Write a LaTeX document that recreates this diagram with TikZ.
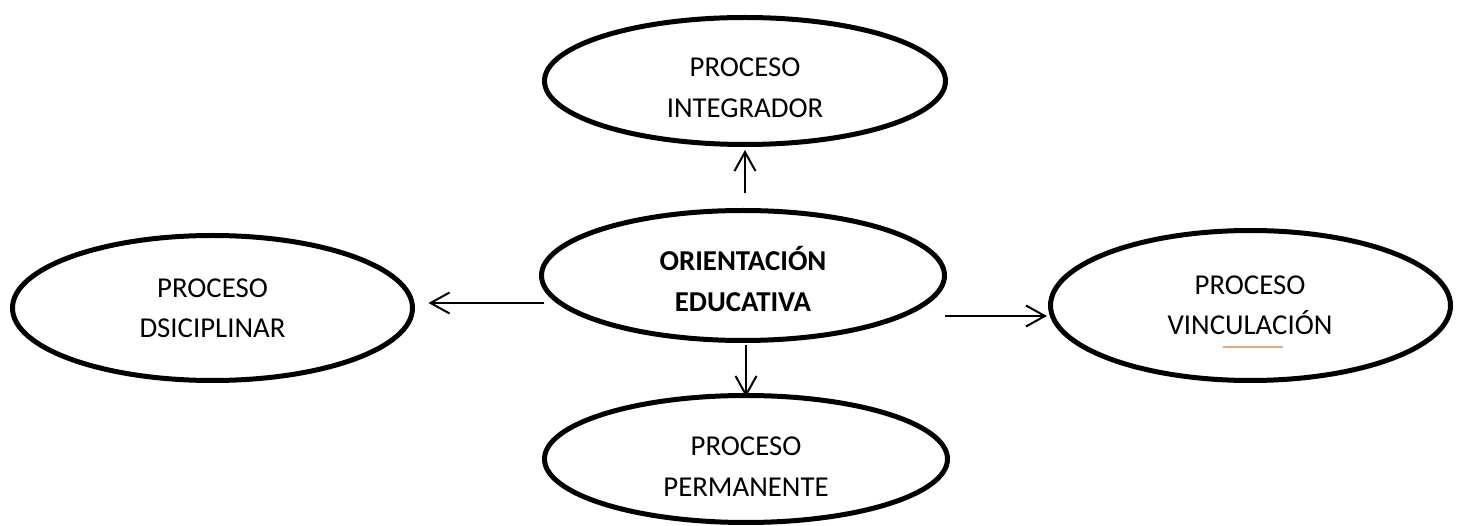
\documentclass[tikz,border=0pt]{standalone}
\usepackage{fontspec}
\setmainfont{Carlito}
\usetikzlibrary{shapes.geometric,arrows.meta}
\definecolor{strayorange}{RGB}{226,170,125}
\tikzset{
  proc/.style={ellipse, draw=black, line width=5pt, inner sep=0pt, outer sep=0pt},
  lbl/.style={anchor=base, inner sep=0pt, font=\fontsize{28.8}{41}\selectfont},
  lblb/.style={lbl, font=\fontsize{28.8}{41}\selectfont\bfseries},
  arr/.style={line width=2pt, -{Straight Barb[length=19pt,width=21pt,line width=2pt]}}
}
\begin{document}
\begin{tikzpicture}[x=1pt,y=-1pt]
\useasboundingbox (0,0) rectangle (1460,526);
% ellipses
\node[proc, minimum width=401pt, minimum height=127pt] (t) at (745,81) {};
\node[proc, minimum width=403pt, minimum height=130pt] (c) at (743,275.5) {};
\node[proc, minimum width=403pt, minimum height=127pt] (b) at (746,459) {};
\node[proc, minimum width=400pt, minimum height=145pt] (l) at (212.5,308) {};
\node[proc, minimum width=400pt, minimum height=150pt] (r) at (1250.5,305.5) {};
% texts
\node[lbl] (t1) at (745,76.5) {PROCESO};
\node[lbl] (t2) at (745,118) {INTEGRADOR};
\node[lblb] (c1) at (743,270.5) {ORIENTACIÓN};
\node[lblb] (c2) at (743,311.5) {EDUCATIVA};
\node[lbl] (b1) at (746,455.5) {PROCESO};
\node[lbl] (b2) at (746,496.5) {PERMANENTE};
\node[lbl] (l1) at (212.5,297.5) {PROCESO};
\node[lbl] (l2) at (212.5,337.5) {DSICIPLINAR};
\node[lbl] (r1) at (1250,294.5) {PROCESO};
\node[lbl] (r2) at (1250,334.5) {VINCULACIÓN};
% connectors
\draw[arr] ([shift={(2,-17.5)}]c.north) -- ([shift={(0,5.5)}]t.south);
\draw[arr] ([shift={(3,4.5)}]c.south) -- ([shift={(0,1.5)}]b.north);
\draw[arr] ([shift={(2,27.5)}]c.west) -- ([shift={(16,-5)}]l.east);
\draw[arr] ([shift={(0.5,40.5)}]c.east) -- ([shift={(-3.5,10.5)}]r.west);
% stray mark under VINCULACION
\coordinate (s1) at (1223,347);
\coordinate (s2) at (1283,347);
\draw[strayorange, line width=1.3pt] (s1) -- (s2);
\end{tikzpicture}
\end{document}
